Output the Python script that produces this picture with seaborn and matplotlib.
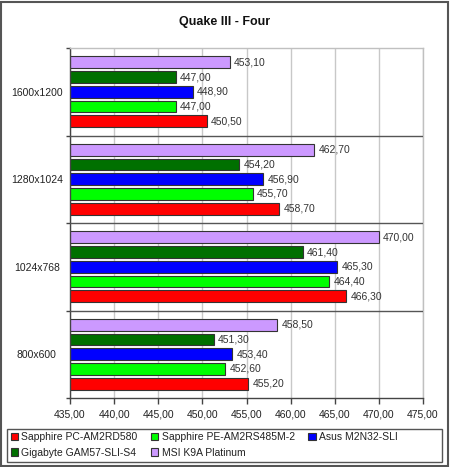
import matplotlib
matplotlib.use("Agg")
import matplotlib.pyplot as plt
from matplotlib.patches import Patch, Rectangle
import seaborn as sns
import pandas as pd

categories = ["1600x1200", "1280x1024", "1024x768", "800x600"]
series = ["Sapphire PC-AM2RD580", "Sapphire PE-AM2RS485M-2", "Asus M2N32-SLI",
          "Gigabyte GAM57-SLI-S4", "MSI K9A Platinum"]
colors = ["#FF0000", "#00FF00", "#0000FF", "#007000", "#CC99FF"]
values = {
    "Sapphire PC-AM2RD580": [450.50, 458.70, 466.30, 455.20],
    "Sapphire PE-AM2RS485M-2": [447.00, 455.70, 464.40, 452.60],
    "Asus M2N32-SLI": [448.90, 456.90, 465.30, 453.40],
    "Gigabyte GAM57-SLI-S4": [447.00, 454.20, 461.40, 451.30],
    "MSI K9A Platinum": [453.10, 462.70, 470.00, 458.50],
}
xticks = [435, 440, 445, 450, 455, 460, 465, 470, 475]

rows = []
for s in series:
    for c, v in zip(categories, values[s]):
        rows.append({"res": c, "board": s, "val": v})
df = pd.DataFrame(rows)

sns.set_theme(style="white")
plt.rcParams["font.family"] = ["Liberation Sans", "DejaVu Sans"]

FS = 7.5
fig = plt.figure(figsize=(4.5, 4.67), dpi=100)
fig.patch.set_facecolor("white")
ax = fig.add_axes([70/450, 69/467, 353/450, 350/467])

draw_order = series[::-1]
pal = dict(zip(series, colors))
sns.barplot(data=df, y="res", x="val", hue="board", order=categories,
            hue_order=draw_order, palette=pal, orient="h", width=0.84, gap=0.2,
            edgecolor="#333333", linewidth=0.8, saturation=1, legend=False, ax=ax)

ax.set_xlim(435, 475)
ax.set_ylim(3.5, -0.5)
ax.set_xticks(xticks)
ax.set_xticklabels([f"{t:.2f}".replace(".", ",") for t in xticks], fontsize=FS, color="#222222")
ax.set_yticks(range(len(categories)))
ax.set_yticklabels(categories, fontsize=FS, color="#222222")
for lab in ax.get_yticklabels():
    lab.set_horizontalalignment("center")
ax.tick_params(axis="y", which="major", length=0, pad=24)
ax.set_yticks([-0.5, 0.5, 1.5, 2.5, 3.5], minor=True)
ax.tick_params(axis="y", which="minor", length=3, color="#444444", width=1, left=True)
ax.tick_params(axis="x", which="major", length=4, color="#444444", width=1, bottom=True, pad=4)
ax.set_xlabel("")
ax.set_ylabel("")
ax.grid(axis="x", color="#C8C8C8", linewidth=1)
ax.set_axisbelow(True)
for y in [0.5, 1.5, 2.5]:
    ax.axhline(y, color="#555555", linewidth=1, zorder=3)
ax.spines["left"].set_color("#444444")
ax.spines["bottom"].set_color("#444444")
ax.spines["top"].set_color("#C0C0C0")
ax.spines["right"].set_color("#C0C0C0")
for sp in ax.spines.values():
    sp.set_linewidth(1)

for cont in ax.containers:
    ax.bar_label(cont, labels=[f"{w.get_width():.2f}".replace(".", ",") for w in cont],
                 padding=3, fontsize=FS, color="#333333")

fig.text(0.5, 1 - 22/467, "Quake III - Four", ha="center", va="center",
         fontsize=9, fontweight="bold", color="#111111")

handles = [Patch(facecolor=c, edgecolor="#333333", linewidth=0.8) for c in colors]
order = [0, 3, 1, 4, 2]
leg = fig.legend([handles[i] for i in order], [series[i] for i in order],
                 ncol=3, loc="upper left", bbox_to_anchor=(11/450, 1 - 432/467),
                 frameon=False, fontsize=FS, handlelength=0.7, handleheight=0.7,
                 handletextpad=0.3, columnspacing=1.3, labelspacing=0.55,
                 borderaxespad=0, borderpad=0)
for t in leg.get_texts():
    t.set_color("#222222")
fig.patches.append(Rectangle((7/450, 1 - 462/467), 435/450, 33/467, transform=fig.transFigure,
                             facecolor="none", edgecolor="#555555", linewidth=1))
fig.patches.append(Rectangle((1/450, 1/467), 447/450, 464/467, transform=fig.transFigure,
                             facecolor="none", edgecolor="#555555", linewidth=1.5))

fig.savefig("out.png", dpi=100)
